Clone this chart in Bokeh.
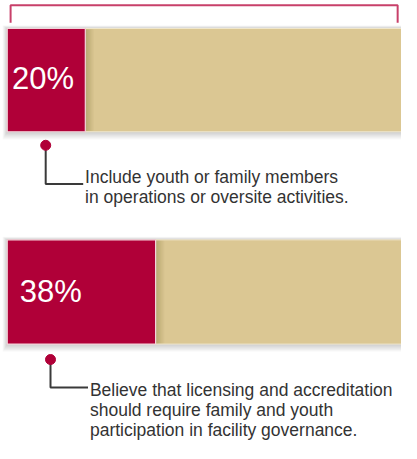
from bokeh.plotting import figure
from bokeh.models import Range1d
from bokeh.core.properties import value
from bokeh.embed import file_html
from bokeh.resources import INLINE

# ---- data ----
labels = ["20%", "38%"]
values = [20, 38]
captions = [
    ["Include youth or family members", "in operations or oversite activities."],
    ["Believe that licensing and accreditation", "should require family and youth",
     "participation in facility governance."],
]

# ---- layout (reference pixels, scaled to the figure by the ranges) ----
RED = "#B00038"
TAN = "#DBC793"
TXT = "#333333"
PX_PER_PCT = 4.06
X0 = 7  # reference x of 0 %


def px(xs):
    return (xs - X0) / PX_PER_PCT


bar_top = [29, 248]
bar_bot = [136, 356]
label_x = [12, 20]
label_y = [81, 302]
dot_x = [47, 52]
dot_y = [150, 372]
elbow_y = [190, 401]
text_x = [88, 93]
text_y0 = [183, 404]
line_gap = 20.5
RW, RH = 417, 459

W, H = 401, 443
p = figure(width=W, height=H, output_backend="svg", toolbar_location=None,
           x_range=Range1d(px(0), px(RW)), y_range=Range1d(RH, 0),
           min_border=0)
p.axis.visible = False
p.grid.visible = False
p.outline_line_color = None
p.background_fill_color = "white"
p.border_fill_color = "white"

# bracket on top
p.line(x=[px(10.5), px(10.5), px(413), px(413)], y=[23, 5, 5, 23],
       line_color="#C8406A", line_width=2)

for i, v in enumerate(values):
    t, b = bar_top[i], bar_bot[i]
    # drop shadow
    for k in range(1, 9):
        p.quad(left=px(X0 - k * 0.6), right=px(RW) + 2, top=t - k * 0.4, bottom=b + k,
               fill_color="black", fill_alpha=0.025, line_color=None)
    # tan remainder
    p.quad(left=v, right=px(RW) + 2, top=t, bottom=b, fill_color=TAN,
           line_color="#EFE6CC", line_width=1)
    # inner shadow on tan next to red
    for k in range(9):
        p.quad(left=v, right=v + (9 - k) / PX_PER_PCT, top=t + 1, bottom=b - 1,
               fill_color="#6b5a2a", fill_alpha=0.03, line_color=None)
    # red value
    p.quad(left=0, right=v, top=t, bottom=b, fill_color=RED,
           line_color="#F3D3DA", line_width=1.2)
    p.text(x=[px(label_x[i])], y=[label_y[i]], text=[labels[i]],
           text_color="white", text_font=value("Liberation Sans"),
           text_font_size="31px", text_baseline="middle", text_align="left")
    # connector
    p.line(x=[px(dot_x[i]), px(dot_x[i]), px(text_x[i] - 2)],
           y=[dot_y[i], elbow_y[i], elbow_y[i]], line_color="#3a3a3a", line_width=2)
    p.scatter(x=[px(dot_x[i])], y=[dot_y[i]], size=10, fill_color=RED,
              line_color=RED)
    ys = [text_y0[i] + j * line_gap for j in range(len(captions[i]))]
    p.text(x=[px(text_x[i])] * len(ys), y=ys, text=captions[i],
           text_color=TXT, text_font=value("Liberation Sans"),
           text_font_size="17.5px", text_baseline="middle", text_align="left")

open("out.html", "w").write(file_html(p, INLINE))
